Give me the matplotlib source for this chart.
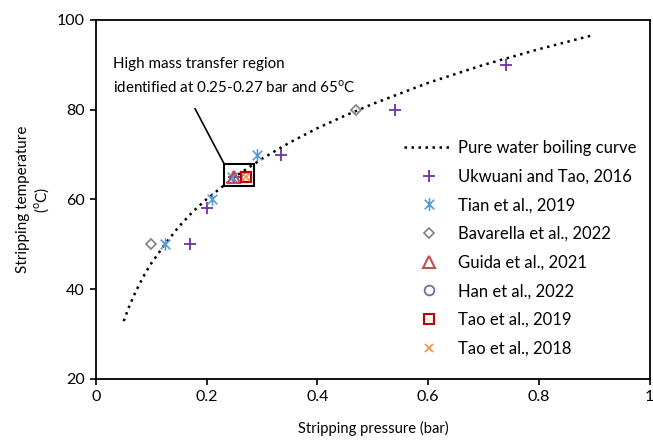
import numpy as np
import matplotlib.pyplot as plt
from matplotlib.path import Path
from matplotlib.patches import Rectangle

plt.rcParams['font.family'] = ['Lato', 'DejaVu Sans']
plt.rcParams['mathtext.fontset'] = 'custom'
plt.rcParams['mathtext.rm'] = 'Lato'

# pure water boiling curve
curve_p = [0.05, 0.06, 0.07, 0.08, 0.09, 0.10, 0.125, 0.15, 0.175, 0.20, 0.25,
           0.30, 0.35, 0.40, 0.45, 0.50, 0.60, 0.70, 0.80, 0.90]
curve_t = [32.9, 36.2, 39.0, 41.5, 43.8, 45.8, 50.1, 54.0, 57.3, 60.1, 65.0,
           69.1, 72.7, 75.9, 78.7, 81.3, 86.0, 90.0, 93.5, 96.7]

ukwuani_p = [0.17, 0.20, 0.25, 0.335, 0.54, 0.74]
ukwuani_t = [50, 58, 65, 70, 80, 90]
tian_p = [0.125, 0.21, 0.245, 0.29]
tian_t = [50, 60, 65, 70]
bavarella_p = [0.10, 0.47]
bavarella_t = [50, 80]
guida_p = [0.25]
guida_t = [65]
han_p = [0.27]
han_t = [65]
tao19_p = [0.27]
tao19_t = [65]
tao18_p = [0.27]
tao18_t = [65]

# excel style star marker: x plus vertical bar
star = Path([(-1, -1), (1, 1), (-1, 1), (1, -1), (0, -1.3), (0, 1.3)],
            [Path.MOVETO, Path.LINETO, Path.MOVETO, Path.LINETO, Path.MOVETO, Path.LINETO])

fig = plt.figure(figsize=(6.53, 4.44), dpi=100)
ax = fig.add_axes([0.147, 0.1464, 0.848, 0.8086])

ax.plot(curve_p, curve_t, color='black', linestyle=(0, (1, 1.8)), lw=1.8,
        label='Pure water boiling curve')
ax.plot(ukwuani_p, ukwuani_t, ls='none', marker='+', ms=8, mew=1.3,
        color='#7030A0', label='Ukwuani and Tao, 2016')
ax.plot(tian_p, tian_t, ls='none', marker=star, ms=9, mew=1.2,
        color='#5B9BD5', label='Tian et al., 2019')
ax.plot(bavarella_p, bavarella_t, ls='none', marker='D', ms=5, mew=1.2,
        mfc='none', mec='#808080', label='Bavarella et al., 2022')
ax.plot(guida_p, guida_t, ls='none', marker='^', ms=8, mew=1.5,
        mfc='none', mec='#C0504D', label='Guida et al., 2021')
ax.plot(han_p, han_t, ls='none', marker='o', ms=7, mew=1.3,
        mfc='none', mec='#8064A2', label='Han et al., 2022')
ax.plot(tao19_p, tao19_t, ls='none', marker='s', ms=7, mew=1.5,
        mfc='none', mec='#C00000', label='Tao et al., 2019')
ax.plot(tao18_p, tao18_t, ls='none', marker='x', ms=6, mew=1.3,
        color='#F79646', label='Tao et al., 2018')

# highlighted region
ax.add_patch(Rectangle((0.232, 63.0), 0.053, 4.8, fill=False, ec='black', lw=1.5, zorder=5))
ax.plot([0.232, 0.179], [67.8, 80.2], color='black', lw=1.2)
ax.text(0.031, 90.2, 'High mass transfer region', fontsize=10.9, va='center')
ax.text(0.031, 84.9, 'identified at 0.25-0.27 bar and 65$^{\\mathrm{o}}$C',
        fontsize=10.9, va='center')

ax.set_xlim(0, 1)
ax.set_ylim(20, 100)
ax.set_xticks([0, 0.2, 0.4, 0.6, 0.8, 1])
ax.set_xticklabels(['0', '0.2', '0.4', '0.6', '0.8', '1'])
ax.set_yticks([20, 40, 60, 80, 100])
ax.tick_params(direction='out', length=4, width=1.2, labelsize=11.5, pad=4)
for s in ax.spines.values():
    s.set_linewidth(1.3)

ax.set_xlabel('Stripping pressure (bar)', fontsize=10.6, labelpad=12)
ax.set_ylabel('Stripping temperature\n($^{\\mathrm{o}}$C)', fontsize=11, labelpad=4)

ax.legend(loc='upper left', bbox_to_anchor=(0.53, 0.708), frameon=False,
          fontsize=12, handlelength=2.9, labelspacing=0.76, handletextpad=0.3)

fig.savefig('out.png', dpi=100)
